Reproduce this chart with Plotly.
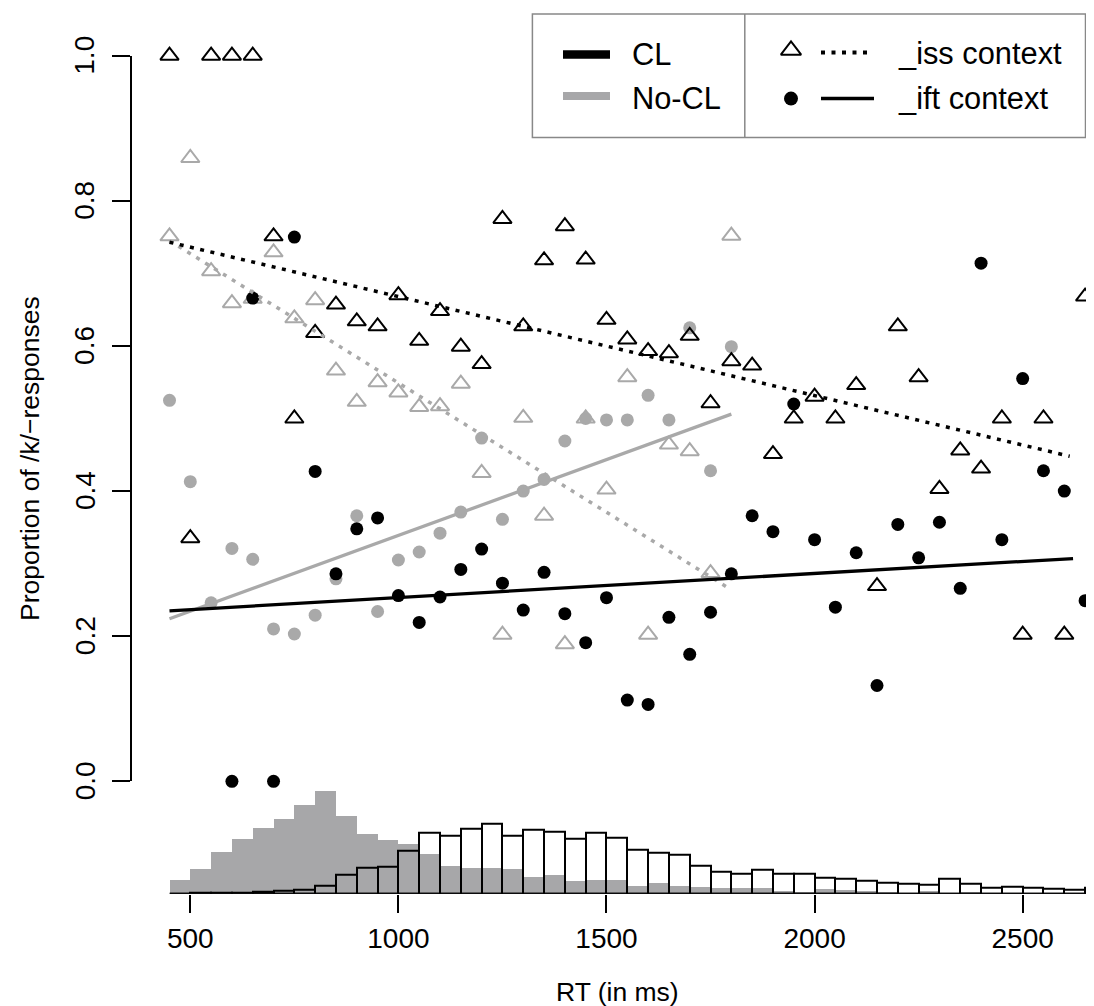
import plotly.graph_objects as go

# ---------------- data ----------------
rt_cl_iss = [450, 500, 550, 600, 650, 700, 750, 800, 850, 900, 950, 1000, 1050, 1100, 1150, 1200,
             1250, 1300, 1350, 1400, 1450, 1500, 1550, 1600, 1650, 1700, 1750, 1800, 1850, 1900,
             1950, 2000, 2050, 2100, 2150, 2200, 2250, 2300, 2350, 2400, 2450, 2500, 2550, 2600, 2650]
prop_cl_iss = [1.0, 0.335, 1.0, 1.0, 1.0, 0.751, 0.50, 0.618, 0.657, 0.634, 0.627, 0.670, 0.607, 0.648,
               0.599, 0.575, 0.775, 0.627, 0.718, 0.765, 0.719, 0.636, 0.609, 0.593, 0.590, 0.614,
               0.521, 0.579, 0.573, 0.451, 0.50, 0.530, 0.50, 0.546, 0.269, 0.627, 0.557, 0.403,
               0.456, 0.431, 0.50, 0.202, 0.50, 0.202, 0.668]

rt_cl_ift = [600, 650, 700, 750, 800, 850, 900, 950, 1000, 1050, 1100, 1150, 1200, 1250, 1300, 1350,
             1400, 1450, 1500, 1550, 1600, 1650, 1700, 1750, 1800, 1850, 1900, 1950, 2000, 2050,
             2100, 2150, 2200, 2250, 2300, 2350, 2400, 2450, 2500, 2550, 2600, 2650]
prop_cl_ift = [0.0, 0.666, 0.0, 0.75, 0.427, 0.286, 0.348, 0.363, 0.256, 0.219, 0.254, 0.292, 0.320,
               0.273, 0.236, 0.288, 0.231, 0.191, 0.253, 0.112, 0.106, 0.226, 0.175, 0.233, 0.286,
               0.366, 0.344, 0.520, 0.333, 0.240, 0.315, 0.132, 0.354, 0.308, 0.357, 0.266, 0.714,
               0.333, 0.555, 0.428, 0.400, 0.249]

rt_nocl_iss = [450, 500, 550, 600, 650, 700, 750, 800, 850, 900, 950, 1000, 1050, 1100, 1150, 1200,
               1250, 1300, 1350, 1400, 1450, 1500, 1550, 1600, 1650, 1700, 1750, 1800]
prop_nocl_iss = [0.751, 0.859, 0.703, 0.659, 0.665, 0.729, 0.638, 0.663, 0.566, 0.523, 0.550, 0.536,
                 0.516, 0.517, 0.548, 0.425, 0.202, 0.501, 0.366, 0.189, 0.500, 0.402, 0.557, 0.202,
                 0.464, 0.455, 0.287, 0.752]

rt_nocl_ift = [450, 500, 550, 600, 650, 700, 750, 800, 850, 900, 950, 1000, 1050, 1100, 1150, 1200,
               1250, 1300, 1350, 1400, 1450, 1500, 1550, 1600, 1650, 1700, 1750, 1800]
prop_nocl_ift = [0.525, 0.413, 0.246, 0.321, 0.306, 0.210, 0.203, 0.229, 0.279, 0.366, 0.234, 0.305,
                 0.316, 0.342, 0.371, 0.473, 0.361, 0.400, 0.416, 0.469, 0.500, 0.498, 0.498, 0.532,
                 0.498, 0.625, 0.428, 0.599]

# fitted regression lines (end points)
fit_cl_iss_x = [450, 2613]
fit_cl_iss_y = [0.743, 0.448]
fit_cl_ift_x = [450, 2621]
fit_cl_ift_y = [0.235, 0.307]
fit_nocl_iss_x = [450, 1797]
fit_nocl_iss_y = [0.745, 0.265]
fit_nocl_ift_x = [450, 1800]
fit_nocl_ift_y = [0.224, 0.506]

# RT distributions (bar heights, relative units), bins of 50 ms
hist_bin_start = list(range(450, 2700, 50))
hist_nocl = [14, 25, 41.7, 54.7, 66.3, 74.7, 89, 103, 78, 59.7, 54, 50, 39.7, 28.3, 25.7, 26.3, 25,
             16.7, 19, 13.3, 14, 14, 8.3, 10.7, 8.3, 7.3, 5.7, 5.7, 6.3, 3, 2.3, 4.7, 4, 3, 1.3, 0.7,
             3, 0.7, 1.3, 0.5, 0.5, 0.3, 0.3, 0.3, 0.3]
hist_cl = [0, 1.3, 0.7, 1, 2, 2.7, 3.7, 8.3, 19, 26.3, 26.7, 43.3, 61.3, 58.3, 65, 69.7, 58.3, 64,
           61.7, 55, 60.7, 55.7, 43.7, 40.7, 39, 28, 21.7, 20, 24, 19.7, 20, 16.3, 14.7, 13, 11.3,
           10, 8.7, 14.7, 10, 5.7, 7, 5.7, 5, 3.7, 5.7]

x_ticks = [500, 1000, 1500, 2000, 2500]
x_tick_labels = ["500", "1000", "1500", "2000", "2500"]
y_ticks = [0.0, 0.2, 0.4, 0.6, 0.8, 1.0]
y_tick_labels = ["0.0", "0.2", "0.4", "0.6", "0.8", "1.0"]

legend_groups = ["CL", "No-CL"]
legend_contexts = ["_iss context", "_ift context"]

# ---------------- layout helpers ----------------
W, H = 1094, 1006
FONT = "Liberation Sans, Arial, Helvetica, sans-serif"
FS = 28
FS_LAB = 26.5
FS_LEG = 30.8
GRAY = "#a9a9a9"
HGRAY = "#a7a7a9"


def PX(px):
    return px / W


def PY(py):
    return 1 - py / H


fig = go.Figure()

# histograms
centers = [b + 25 for b in hist_bin_start]
fig.add_trace(go.Bar(x=centers, y=hist_nocl, width=50, xaxis="x", yaxis="y2",
                     marker=dict(color=HGRAY, line=dict(width=0)), showlegend=False))
fig.add_trace(go.Bar(x=centers, y=hist_cl, width=50, xaxis="x", yaxis="y2",
                     marker=dict(color="rgba(0,0,0,0)", line=dict(color="black", width=2)),
                     showlegend=False))

# points
fig.add_trace(go.Scatter(x=rt_nocl_iss, y=prop_nocl_iss, mode="markers", cliponaxis=False,
                         marker=dict(symbol="triangle-up-open", size=16, color=GRAY,
                                     line=dict(width=2, color=GRAY)), showlegend=False))
fig.add_trace(go.Scatter(x=rt_nocl_ift, y=prop_nocl_ift, mode="markers", cliponaxis=False,
                         marker=dict(symbol="circle", size=13, color=GRAY, line=dict(width=0)),
                         showlegend=False))
fig.add_trace(go.Scatter(x=rt_cl_iss, y=prop_cl_iss, mode="markers", cliponaxis=False,
                         marker=dict(symbol="triangle-up-open", size=16, color="black",
                                     line=dict(width=2, color="black")), showlegend=False))
fig.add_trace(go.Scatter(x=rt_cl_ift, y=prop_cl_ift, mode="markers", cliponaxis=False,
                         marker=dict(symbol="circle", size=13, color="black", line=dict(width=0)),
                         showlegend=False))

# fitted lines
DOT = "4px,6.5px"
fig.add_trace(go.Scatter(x=fit_nocl_iss_x, y=fit_nocl_iss_y, mode="lines",
                         line=dict(color=GRAY, width=3.5, dash=DOT), showlegend=False))
fig.add_trace(go.Scatter(x=fit_nocl_ift_x, y=fit_nocl_ift_y, mode="lines",
                         line=dict(color=GRAY, width=3.3), showlegend=False))
fig.add_trace(go.Scatter(x=fit_cl_iss_x, y=fit_cl_iss_y, mode="lines",
                         line=dict(color="black", width=3.5, dash=DOT), showlegend=False))
fig.add_trace(go.Scatter(x=fit_cl_ift_x, y=fit_cl_ift_y, mode="lines",
                         line=dict(color="black", width=3.3), showlegend=False))

# legend symbols on a pixel overlay axis
fig.add_trace(go.Scatter(x=[783], y=[42.3], xaxis="x3", yaxis="y3", mode="markers",
                         marker=dict(symbol="triangle-up-open", size=17.6, color="black",
                                     line=dict(width=2, color="black")), showlegend=False))
fig.add_trace(go.Scatter(x=[783], y=[90.6], xaxis="x3", yaxis="y3", mode="markers",
                         marker=dict(symbol="circle", size=14, color="black"), showlegend=False))
fig.add_trace(go.Scatter(x=[813, 863], y=[44.5, 44.5], xaxis="x3", yaxis="y3", mode="lines",
                         line=dict(color="black", width=4, dash=DOT), showlegend=False))
fig.add_trace(go.Scatter(x=[813, 866], y=[90.6, 90.6], xaxis="x3", yaxis="y3", mode="lines",
                         line=dict(color="black", width=3.5), showlegend=False))

shapes = [
    # histogram baseline
    dict(type="line", xref="x", yref="y2", x0=450, x1=2700, y0=0, y1=0,
         line=dict(color="black", width=2)),
    # legend box and divider
    dict(type="rect", xref="paper", yref="paper", x0=PX(524.4), x1=PX(1077.5), y0=PY(129.5),
         y1=PY(6), line=dict(color="#888888", width=1.5), fillcolor="rgba(0,0,0,0)"),
    dict(type="line", xref="paper", yref="paper", x0=PX(736.8), x1=PX(736.8), y0=PY(129.5),
         y1=PY(6), line=dict(color="#888888", width=1.5)),
    # legend colour keys
    dict(type="line", xref="paper", yref="paper", x0=PX(555), x1=PX(602), y0=PY(46.5),
         y1=PY(46.5), line=dict(color="black", width=8.5)),
    dict(type="line", xref="paper", yref="paper", x0=PX(555), x1=PX(602), y0=PY(88),
         y1=PY(88), line=dict(color=HGRAY, width=8)),
]

annotations = []
for v, t in zip(y_ticks, y_tick_labels):
    py = 773.3 - v * 725.6
    annotations.append(dict(x=PX(77), y=PY(py), xref="paper", yref="paper", text=t,
                            textangle=-90, showarrow=False, xanchor="center", yanchor="middle",
                            font=dict(family=FONT, size=FS, color="black")))
annotations.append(dict(x=PX(22), y=PY(451), xref="paper", yref="paper",
                        text="Proportion of /k/\u2212responses", textangle=-90, showarrow=False,
                        xanchor="center", yanchor="middle",
                        font=dict(family=FONT, size=FS_LAB, color="black")))
annotations.append(dict(x=PX(609), y=PY(984), xref="paper", yref="paper", text="RT (in ms)",
                        showarrow=False, xanchor="center", yanchor="middle",
                        font=dict(family=FONT, size=FS_LAB, color="black")))
for txt, xx, yy in [(legend_groups[0], 622, 46), (legend_groups[1], 622, 90.5),
                    (legend_contexts[0], 888, 45.5), (legend_contexts[1], 888, 90.5)]:
    annotations.append(dict(x=PX(xx), y=PY(yy), xref="paper", yref="paper", text=txt,
                            showarrow=False, xanchor="left", yanchor="middle",
                            font=dict(family=FONT, size=FS_LEG, color="black")))

x_left_ms = 359.9
x_right_ms = 2690.6

fig.update_layout(
    width=W, height=H, autosize=False,
    margin=dict(l=0, r=0, t=0, b=0, pad=0),
    paper_bgcolor="white", plot_bgcolor="rgba(0,0,0,0)",
    barmode="overlay", bargap=0,
    showlegend=False,
    font=dict(family=FONT, size=FS, color="black"),
    xaxis=dict(domain=[PX(124), 1], range=[x_left_ms, x_right_ms], anchor="y2",
               showline=False, showgrid=False, zeroline=False,
               ticks="outside", ticklen=18, tickwidth=2, tickcolor="black",
               tickvals=x_ticks, ticktext=x_tick_labels,
               tickfont=dict(family=FONT, size=FS, color="black"), ticklabelstandoff=2),
    yaxis=dict(domain=[PY(773.3), PY(47.7)], range=[0, 1], anchor="x",
               showline=True, linecolor="black", linewidth=2, showgrid=False, zeroline=False,
               ticks="outside", ticklen=18, tickwidth=2, tickcolor="black",
               tickvals=y_ticks, showticklabels=False),
    yaxis2=dict(domain=[PY(885.7), PY(765.7)], range=[0, 120], anchor="x", visible=False,
                showgrid=False, zeroline=False),
    xaxis3=dict(domain=[0, 1], range=[0, W], anchor="y3", visible=False),
    yaxis3=dict(domain=[0, 1], range=[H, 0], anchor="x3", visible=False),
    shapes=shapes,
    annotations=annotations,
)

fig.write_html("out.html", config=dict(displayModeBar=False))
